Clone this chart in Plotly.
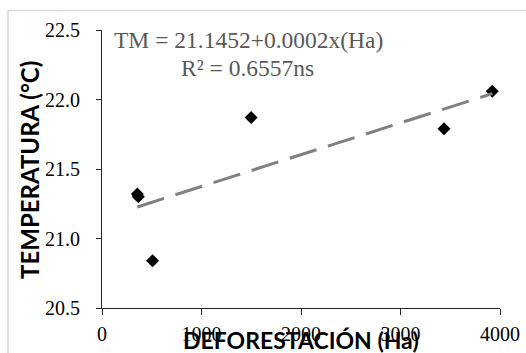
import numpy as np
import plotly.graph_objects as go

# Deforestation (ha) vs. mean temperature (°C)
deforestacion_ha = [355, 365, 508, 1499, 3437, 3922]
temperatura_c = [21.32, 21.30, 20.84, 21.87, 21.79, 22.06]

x_ticks = [0, 1000, 2000, 3000, 4000]
y_ticks = [20.5, 21.0, 21.5, 22.0, 22.5]

ecuacion = "TM = 21.1452+0.0002x(Ha)"
r2_texto = "R² = 0.6557ns"

# Linear trend fitted to the observations
pend, inter = np.polyfit(deforestacion_ha, temperatura_c, 1)
xt = np.array([min(deforestacion_ha), max(deforestacion_ha)])
yt = inter + pend * xt

W, H = 526, 353
L, R, T, B = 102, 26, 30, 45
pw, ph = W - L - R, H - T - B

def px(xp):
    return (xp - L) / pw

def py(yp):
    return (H - B - yp) / ph

serif = "Liberation Serif"
sans = "Lato"

fig = go.Figure()
fig.add_trace(go.Scatter(
    x=deforestacion_ha, y=temperatura_c, mode="markers",
    marker=dict(symbol="diamond", size=10, color="black"),
    showlegend=False, hoverinfo="skip"))
fig.add_trace(go.Scatter(
    x=xt, y=yt, mode="lines",
    line=dict(color="#808080", width=3, dash="28px,12px"),
    showlegend=False, hoverinfo="skip"))

axis_common = dict(
    showgrid=False, zeroline=False, showline=True, automargin=False,
    linecolor="#262626", linewidth=1, ticks="outside",
    tickcolor="#262626", tickwidth=1,
    tickfont=dict(family=serif, size=20, color="black"),
)
fig.update_xaxes(range=[0, 4000], tickvals=x_ticks,
                 ticktext=[str(v) for v in x_ticks], ticklen=6,
                 ticklabelstandoff=2, **axis_common)
fig.update_yaxes(range=[20.5, 22.5], tickvals=y_ticks,
                 ticktext=[f"{v:.1f}" for v in y_ticks], ticklen=5,
                 ticklabelstandoff=12, **axis_common)

annotations = [
    dict(text=ecuacion, x=px(248), y=py(39.5), xref="paper", yref="paper",
         xanchor="center", yanchor="middle", showarrow=False,
         font=dict(family=serif, size=23.5, color="#595959")),
    dict(text=r2_texto, x=px(247.5), y=py(68), xref="paper", yref="paper",
         xanchor="center", yanchor="middle", showarrow=False,
         font=dict(family=serif, size=23.5, color="#595959")),
    dict(text="<b>TEMPERATURA (°C)</b>", x=px(29), y=py(170),
         xref="paper", yref="paper", xanchor="center", yanchor="middle",
         textangle=-90, showarrow=False,
         font=dict(family=sans, size=24, color="black")),
    dict(text="<b>DEFORESTACIÓN (Ha)</b>", x=px(301), y=py(339.5),
         xref="paper", yref="paper", xanchor="center", yanchor="middle",
         showarrow=False,
         font=dict(family=sans, size=23, color="black")),
]

# Light chart-area border running off the right and bottom edges
shapes = [dict(type="rect", xref="paper", yref="paper",
               x0=px(8), x1=px(W + 5), y0=py(H + 5), y1=py(10.5),
               line=dict(color="#d9d9d9", width=1.5), layer="below")]

fig.update_layout(
    width=W, height=H,
    margin=dict(l=L, r=R, t=T, b=B, pad=0),
    paper_bgcolor="white", plot_bgcolor="white",
    annotations=annotations, shapes=shapes,
)

fig.write_html("out.html", config={"displayModeBar": False})
